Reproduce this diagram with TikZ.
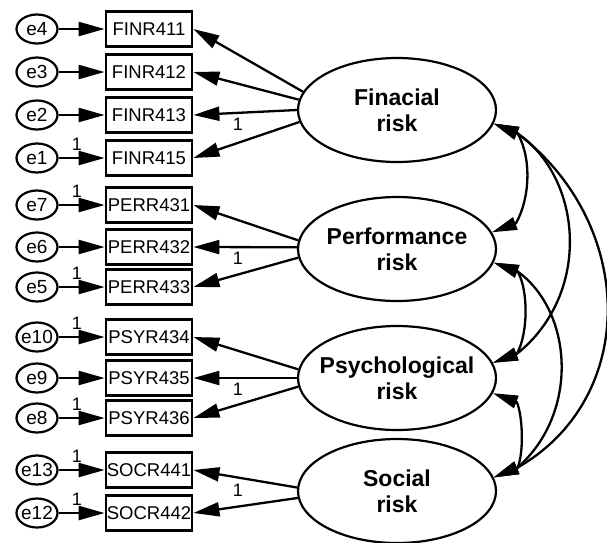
\documentclass[tikz,border=0pt]{standalone}
\usepackage{fontspec}
\setmainfont{Liberation Sans}
\usetikzlibrary{shapes.geometric}
\usetikzlibrary{arrows.meta}
\tikzset{
  errc/.style={draw, ellipse, line width=2.2pt, minimum width=41pt, minimum height=29pt,
    inner xsep=-9pt, inner ysep=0pt, font=\fontsize{19}{21}\selectfont},
  obsbox/.style={draw, rectangle, line width=2.8pt, minimum width=86pt, minimum height=35pt,
    inner sep=0pt, font=\fontsize{18.5}{20}\selectfont},
  latent/.style={draw, ellipse, line width=2.2pt, minimum width=198pt, minimum height=104pt,
    inner xsep=-45pt, inner ysep=0pt, align=center, font=\bfseries\fontsize{23}{26}\selectfont},
  reg/.style={line width=2.3pt, -{Triangle[length=26pt,width=14pt]}},
  cov/.style={line width=2.3pt, {Triangle[length=25pt,width=13pt]}-{Triangle[length=25pt,width=13pt]}},
  one/.style={font=\fontsize{18}{20}\selectfont, inner sep=0pt}
}

\begin{document}
\begin{tikzpicture}[x=1pt,y=-1pt]
        \useasboundingbox (0,0) rectangle (607,542);

        \node[latent] (fin)  at (397,110) {Finacial\\risk};
        \node[latent] (perf) at (397,249) {Performance\\risk};
        \node[latent] (psy)  at (397,378) {Psychological\\risk};
        \node[latent] (soc)  at (397,491) {Social\\risk};

        \node[obsbox] (finr411) at (149, 29) {FINR411};
        \node[obsbox] (finr412) at (149, 72) {FINR412};
        \node[obsbox] (finr413) at (149,115) {FINR413};
        \node[obsbox] (finr415) at (149,158) {FINR415};
        \node[obsbox] (perr431) at (149,205) {PERR431};
        \node[obsbox] (perr432) at (149,247) {PERR432};
        \node[obsbox] (perr433) at (149,287) {PERR433};
        \node[obsbox] (psyr434) at (149,337) {PSYR434};
        \node[obsbox] (psyr435) at (149,378) {PSYR435};
        \node[obsbox] (psyr436) at (149,418) {PSYR436};
        \node[obsbox] (socr441) at (149,470) {SOCR441};
        \node[obsbox] (socr442) at (149,513) {SOCR442};

        \node[errc] (e4)  at (37, 29) {e4};
        \node[errc] (e3)  at (37, 72) {e3};
        \node[errc] (e2)  at (37,115) {e2};
        \node[errc] (e1)  at (37,158) {e1};
        \node[errc] (e7)  at (37,205) {e7};
        \node[errc] (e6)  at (37,247) {e6};
        \node[errc] (e5)  at (37,287) {e5};
        \node[errc] (e10) at (37,337) {e10};
        \node[errc] (e9)  at (37,378) {e9};
        \node[errc] (e8)  at (37,418) {e8};
        \node[errc] (e13) at (37,470) {e13};
        \node[errc] (e12) at (37,513) {e12};

        \draw[reg] (e4)  -- (finr411);
        \draw[reg] (e3)  -- (finr412);
        \draw[reg] (e2)  -- (finr413);
        \draw[reg] (e1)  -- node[one, pos=0.4, above=6pt] {1} (finr415);
        \draw[reg] (e7)  -- node[one, pos=0.4, above=6pt] {1} (perr431);
        \draw[reg] (e6)  -- (perr432);
        \draw[reg] (e5)  -- node[one, pos=0.4, above=6pt] {1} (perr433);
        \draw[reg] (e10) -- node[one, pos=0.4, above=6pt] {1} (psyr434);
        \draw[reg] (e9)  -- (psyr435);
        \draw[reg] (e8)  -- node[one, pos=0.4, above=6pt] {1} (psyr436);
        \draw[reg] (e13) -- node[one, pos=0.4, above=6pt] {1} (socr441);
        \draw[reg] (e12) -- node[one, pos=0.4, above=6pt] {1} (socr442);

        \draw[reg] (fin.169)  -- (finr411.east);
        \draw[reg] (fin.174)  -- (finr412.east);
        \draw[reg] (fin.180)  -- node[one, pos=0.57, below=4pt] {1} (finr413.east);
        \draw[reg] (fin.187)  -- (finr415.east);
        \draw[reg] (perf.175) -- (perr431.east);
        \draw[reg] (perf.179) -- node[one, pos=0.57, below=4pt] {1} (perr432.east);
        \draw[reg] (perf.185) -- (perr433.east);
        \draw[reg] (psy.175)  -- (psyr434.east);
        \draw[reg] (psy.180)  -- node[one, pos=0.57, below=4pt] {1} (psyr435.east);
        \draw[reg] (psy.185)  -- (psyr436.east);
        \draw[reg] (soc.178)  -- node[one, pos=0.57, below=5pt] {1} (socr441.east);
        \draw[reg] (soc.184)  -- (socr442.east);

        \draw[cov] (fin.-8)  -- ([shift={(24,10)}]fin.-8)
                   .. controls +(14,25)  and +(14,-25)  .. ([shift={(24,-9)}]perf.10)  -- (perf.10);
        \draw[cov] (fin.-8)  -- ([shift={(24,10)}]fin.-8)
                   .. controls +(65,45)  and +(75,-60)  .. ([shift={(24,-9)}]psy.9)   -- (psy.9);
        \draw[cov] (fin.-8)  -- ([shift={(24,10)}]fin.-8)
                   .. controls +(118,90) and +(122,-70) .. ([shift={(24,-10)}]soc.8)  -- (soc.8);
        \draw[cov] (perf.-8) -- ([shift={(24,9)}]perf.-8)
                   .. controls +(11,20)  and +(11,-20)  .. ([shift={(24,-9)}]psy.9)   -- (psy.9);
        \draw[cov] (perf.-8) -- ([shift={(24,9)}]perf.-8)
                   .. controls +(55,40)  and +(62,-55)  .. ([shift={(24,-10)}]soc.8)  -- (soc.8);
        \draw[cov] (psy.-9)  -- ([shift={(24,9)}]psy.-9)
                   .. controls +(6,15)   and +(6,-15)   .. ([shift={(24,-10)}]soc.8)  -- (soc.8);
    \end{tikzpicture}
\end{document}
